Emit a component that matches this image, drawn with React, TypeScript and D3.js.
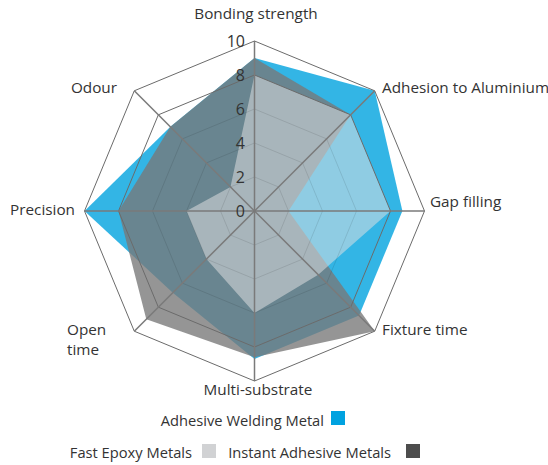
import React from "react";
import * as d3 from "d3";

const axes = ["Bonding strength", "Adhesion to Aluminium", "Gap filling", "Fixture time", "Multi-substrate", "Open time", "Precision", "Odour"];
const weldingMetal = [9, 10, 8.7, 8.7, 8.7, 6.8, 10, 7];
const instantAdhesive = [9, 8, 2, 10, 8.6, 9, 8, 7];
const fastEpoxy = [8, 8, 8, 5.3, 6, 4, 4, 2];
const ticks = [0, 2, 4, 6, 8, 10];

const series = [
  { name: "Adhesive Welding Metal", values: weldingMetal, fill: "#00a2de", opacity: 0.8 },
  { name: "Instant Adhesive Metals", values: instantAdhesive, fill: "#797979", opacity: 0.79 },
  { name: "Fast Epoxy Metals", values: fastEpoxy, fill: "#e0e0e0", opacity: 0.53 },
];

const W = 548, H = 465;
const cx = 254.5, cy = 211, R = 170;

export default function App() {
  const r = d3.scaleLinear().domain([0, 10]).range([0, R]);
  const angle = (i: number) => (i / axes.length) * 2 * Math.PI;
  const pt = (i: number, v: number): [number, number] => [cx + r(v) * Math.sin(angle(i)), cy - r(v) * Math.cos(angle(i))];
  const line = d3.line<number>().x((v, i) => pt(i, v)[0]).y((v, i) => pt(i, v)[1]).curve(d3.curveLinearClosed);
  const ring = (v: number) => line(axes.map(() => v)) as string;
  const font = "'Open Sans', sans-serif";
  const labelPos: { x: number; y: number; anchor: string; lines: string[] }[] = [
    { x: 256, y: 19, anchor: "middle", lines: ["Bonding strength"] },
    { x: 382, y: 93, anchor: "start", lines: ["Adhesion to Aluminium"] },
    { x: 430, y: 207, anchor: "start", lines: ["Gap filling"] },
    { x: 382, y: 335, anchor: "start", lines: ["Fixture time"] },
    { x: 258, y: 395, anchor: "middle", lines: ["Multi-substrate"] },
    { x: 67, y: 335, anchor: "start", lines: ["Open", "time"] },
    { x: 75, y: 215, anchor: "end", lines: ["Precision"] },
    { x: 117, y: 93, anchor: "end", lines: ["Odour"] },
  ];
  return (
    <svg width={W} height={H} style={{ position: "absolute", left: 0, top: 0 }}>
      <rect width={W} height={H} fill="#fff" />
      {series.map((s) => (
        <path key={s.name} d={line(s.values) as string} fill={s.fill} fillOpacity={s.opacity} stroke="none" />
      ))}
      {ticks.slice(1, 4).map((t) => (
        <path key={t} d={ring(t)} fill="none" stroke="#000" strokeOpacity={0.1} strokeWidth={1} />
      ))}
      {[8, 10].map((t) => (
        <path key={t} d={ring(t)} fill="none" stroke="#6b6b6b" strokeWidth={1} />
      ))}
      {axes.map((a, i) => {
        const [x, y] = pt(i, 10);
        return <line key={a} x1={cx} y1={cy} x2={x} y2={y} stroke="#7a7a7a" strokeWidth={1.5} />;
      })}
      {ticks.map((t) => (
        <text key={t} x={245} y={cy - r(t) + 6} textAnchor="end" fontFamily={font} fontSize={16} fill="#333">{t}</text>
      ))}
      {axes.map((a, i) => {
        const p = labelPos[i];
        return (
          <text key={a} x={p.x} y={p.y} textAnchor={p.anchor as any} fontFamily={font} fontSize={15.3} fill="#333">
            {p.lines.map((l, j) => (
              <tspan key={j} x={p.x} dy={j === 0 ? 0 : 20}>{l}</tspan>
            ))}
          </text>
        );
      })}
      <text x={324} y={426} textAnchor="end" fontFamily={font} fontSize={14.7} fill="#333">Adhesive Welding Metal</text>
      <rect x={331} y={411} width={14} height={14} fill="#00a2e0" />
      <text x={192} y={458} textAnchor="end" fontFamily={font} fontSize={14.7} fill="#333">Fast Epoxy Metals</text>
      <rect x={202} y={444} width={14} height={14} fill="#d1d2d4" />
      <text x={391} y={458} textAnchor="end" fontFamily={font} fontSize={14.7} fill="#333">Instant Adhesive Metals</text>
      <rect x={406} y={444} width={14} height={14} fill="#4d4d4d" />
    </svg>
  );
}
